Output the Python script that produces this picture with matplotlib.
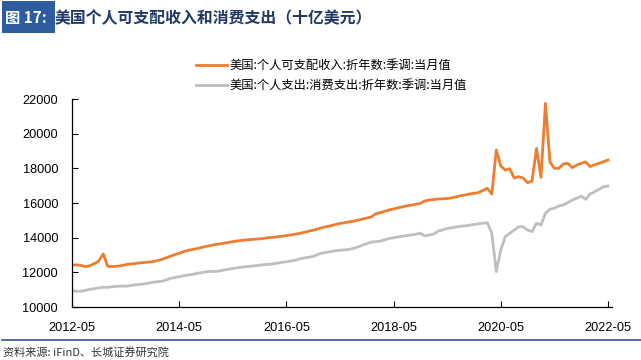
import matplotlib.pyplot as plt
from matplotlib.patches import Rectangle

plt.rcParams['font.family'] = ['Liberation Sans', 'Noto Sans CJK SC', 'DejaVu Sans']
cjk = ['Noto Sans CJK SC', 'DejaVu Sans']

# monthly, 2012-05 .. 2022-05
income = [12420, 12430, 12400, 12330, 12380, 12500, 12650, 13060,
          12350, 12330, 12350, 12380, 12440, 12480, 12500, 12540, 12560, 12590, 12610, 12670,
          12740, 12830, 12930, 13020, 13100, 13200, 13270, 13320, 13370, 13430, 13500, 13540,
          13600, 13640, 13680, 13720, 13770, 13810, 13840, 13870, 13890, 13910, 13930, 13960,
          14000, 14020, 14050, 14080, 14120, 14160, 14200, 14250, 14310, 14370, 14430, 14500,
          14580, 14640, 14690, 14760, 14820, 14860, 14910, 14950, 15010, 15070, 15130, 15200,
          15370, 15440, 15520, 15600, 15660, 15720, 15780, 15840, 15880, 15930, 15980, 16120,
          16170, 16200, 16230, 16240, 16260, 16300, 16350, 16420, 16460, 16520, 16560, 16600,
          16720, 16850, 16520, 19060, 18140, 17900, 17980, 17440, 17520, 17440, 17170, 17270,
          19150, 17480, 21750, 18380, 18000, 18000, 18250, 18290, 18040, 18190, 18290, 18370,
          18100, 18210, 18290, 18380, 18480]
spending = [10950, 10900, 10910, 10960, 11020, 11060, 11100, 11140,
            11130, 11170, 11190, 11210, 11200, 11230, 11270, 11300, 11330, 11370, 11420, 11460,
            11480, 11550, 11650, 11700, 11750, 11800, 11850, 11880, 11940, 11980, 12030, 12060,
            12040, 12080, 12130, 12180, 12220, 12260, 12300, 12330, 12350, 12380, 12410, 12440,
            12460, 12490, 12530, 12580, 12610, 12650, 12700, 12780, 12830, 12870, 12920, 13030,
            13110, 13160, 13190, 13250, 13270, 13300, 13320, 13380, 13460, 13560, 13660, 13740,
            13770, 13800, 13880, 13950, 14000, 14040, 14080, 14130, 14160, 14200, 14250, 14100,
            14160, 14210, 14380, 14450, 14530, 14570, 14620, 14660, 14680, 14720, 14760, 14800,
            14830, 14860, 14250, 12040, 13290, 14060, 14250, 14440, 14630, 14630, 14440, 14350,
            14830, 14730, 15410, 15640, 15700, 15830, 15890, 16020, 16170, 16270, 16400, 16210,
            16520, 16650, 16790, 16940, 16980]
xtick_labels = ['2012-05', '2014-05', '2016-05', '2018-05', '2020-05', '2022-05']
labels = ['美国:个人可支配收入:折年数:季调:当月值', '美国:个人支出:消费支出:折年数:季调:当月值']

fig = plt.figure(figsize=(6.41, 3.60), dpi=100)
ax = fig.add_axes([72/641, 53/360, 540/641, 208/360])

months = list(range(len(income)))
l1, = ax.plot(months, income, color='#ED7D31', lw=2.0)
l2, = ax.plot(months, spending, color='#BFBFBF', lw=2.0)

ax.set_xlim(0, 120.9)
ax.set_ylim(10000, 22000)
ax.set_yticks(range(10000, 22001, 2000))
ax.set_xticks(range(0, 121, 24))
ax.set_xticklabels(xtick_labels)
ax.tick_params(direction='in', length=4, width=0.8, labelsize=9.2, colors='black')
ax.tick_params(axis='y', pad=10)
ax.tick_params(axis='x', pad=11)
for s in ['top', 'right']:
    ax.spines[s].set_visible(False)
for s in ['left', 'bottom']:
    ax.spines[s].set_linewidth(0.9)

fig.legend([l1, l2], labels, loc='upper left', bbox_to_anchor=(196/641, 1 - 59/360),
           frameon=False, prop={'family': cjk, 'size': 8.8}, handlelength=2.5,
           handletextpad=0.2, labelspacing=0.6, borderaxespad=0, borderpad=0)

# title
fig.patches.append(Rectangle((2/641, 1 - 33/360), 53/641, 32/360, transform=fig.transFigure,
                             facecolor='#2E5C9E', edgecolor='none'))
fig.text(5/641, 1 - 18/360, '图 17:', color='white', fontsize=11, fontweight='bold',
         family=cjk, va='center', ha='left')
fig.text(55/641, 1 - 18/360, '美国个人可支配收入和消费支出（十亿美元）', color='#1F3864',
         fontsize=11.4, fontweight='bold', family=cjk, va='center', ha='left')

# footer
fig.add_artist(plt.Line2D([2/641, 1], [1 - 340/360, 1 - 340/360], transform=fig.transFigure,
                          color='#2F5597', lw=1.2))
fig.text(3/641, 1 - 352/360, '资料来源: iFinD、长城证券研究院', fontsize=8, style='italic',
         family=cjk, color='#333333', va='center', ha='left')

fig.savefig('out.png', dpi=100)
